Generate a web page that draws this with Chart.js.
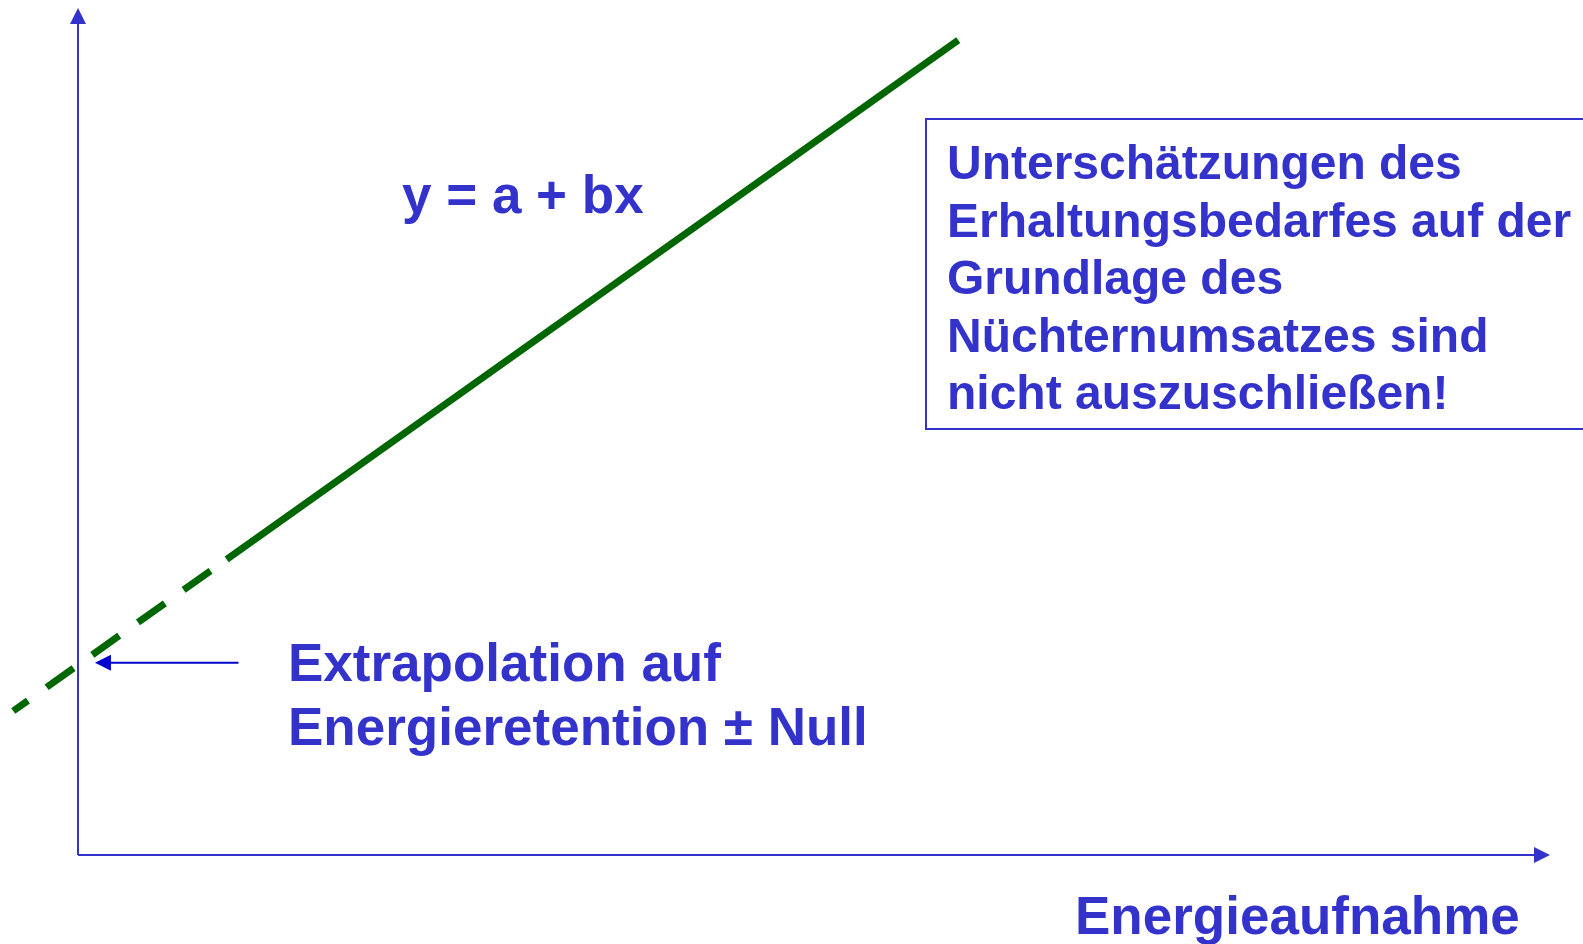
<!DOCTYPE html>
<html>
<head>
<meta charset="utf-8">
<script src="https://cdn.jsdelivr.net/npm/chart.js@4"></script>
<style>
  html, body { margin: 0; padding: 0; background: #fff; }
  #wrap { width: 1583px; height: 944px; position: relative; }
</style>
</head>
<body>
<div id="wrap"><canvas id="chart"></canvas></div>
<script>
// line y = a + bx, extrapolated part (dashed) and measured part (solid)
const dashedX = [-4.4, 10.1];
const dashedY = [17.0, 34.9];
const solidX = [10.1, 59.8];
const solidY = [34.9, 96.2];

// arrow pointing at the intercept on the y axis
const pointerX = [10.9, 1.15];
const pointerY = [22.7, 22.7];

const equationLabel = 'y = a + bx';
const extrapolationLines = ['Extrapolation auf', 'Energieretention \u00b1 Null'];
const noteLines = [
    'Unterschätzungen des',
    'Erhaltungsbedarfes auf der',
    'Grundlage des',
    'Nüchternumsatzes sind',
    'nicht auszuschließen!'
];
const xAxisTitle = 'Energieaufnahme';

const BLUE = '#3333cc';
const GREEN = '#006600';
const FONT = 'bold 53px "Liberation Sans", Arial, sans-serif';

function toPoints(xs, ys) {
    return xs.map((x, i) => ({ x: x, y: ys[i] }));
}

function arrowHead(ctx, tipX, tipY, dx, dy, len, half) {
    // dx, dy = unit direction of the arrow
    const bx = tipX - dx * len;
    const by = tipY - dy * len;
    ctx.beginPath();
    ctx.moveTo(tipX, tipY);
    ctx.lineTo(bx - dy * half, by + dx * half);
    ctx.lineTo(bx + dy * half, by - dx * half);
    ctx.closePath();
    ctx.fill();
}

const decorations = {
    id: 'decorations',
    beforeDatasetsDraw(chart) {
        const ctx = chart.ctx;
        const x = chart.scales.x;
        const y = chart.scales.y;
        const ox = x.getPixelForValue(0);
        const oy = y.getPixelForValue(0);
        const xEnd = x.getPixelForValue(x.max);
        const yEnd = y.getPixelForValue(y.max);

        ctx.save();
        ctx.strokeStyle = BLUE;
        ctx.fillStyle = BLUE;
        ctx.lineWidth = 2;

        // axes
        ctx.beginPath();
        ctx.moveTo(ox, oy);
        ctx.lineTo(ox, yEnd + 10);
        ctx.moveTo(ox, oy);
        ctx.lineTo(xEnd - 10, oy);
        ctx.stroke();
        arrowHead(ctx, ox, yEnd, 0, -1, 16, 8);
        arrowHead(ctx, xEnd, oy, 1, 0, 16, 8);

        // note box (runs off the right edge)
        ctx.lineWidth = 2;
        ctx.strokeRect(926, 119, 700, 310);
        ctx.restore();
    },
    afterDatasetsDraw(chart) {
        const ctx = chart.ctx;
        const x = chart.scales.x;
        const y = chart.scales.y;

        ctx.save();
        // pointer arrow
        const px0 = x.getPixelForValue(pointerX[0]);
        const px1 = x.getPixelForValue(pointerX[1]);
        const py = y.getPixelForValue(pointerY[0]);
        ctx.strokeStyle = '#0000cc';
        ctx.fillStyle = '#0000cc';
        ctx.lineWidth = 2;
        ctx.beginPath();
        ctx.moveTo(px0, py);
        ctx.lineTo(px1 + 12, py);
        ctx.stroke();
        arrowHead(ctx, px1, py, -1, 0, 16, 8);

        // texts
        ctx.fillStyle = BLUE;
        ctx.textBaseline = 'alphabetic';
        ctx.textAlign = 'left';
        ctx.font = FONT;
        ctx.fillText(equationLabel, 402, 213);
        extrapolationLines.forEach((t, i) => ctx.fillText(t, 288, 681 + i * 64));
        ctx.fillText(xAxisTitle, 1075, 934);

        ctx.font = 'bold 48px "Liberation Sans", Arial, sans-serif';
        noteLines.forEach((t, i) => ctx.fillText(t, 947, 179 + i * 57.5));
        ctx.restore();
    }
};

new Chart(document.getElementById('chart'), {
    type: 'scatter',
    data: {
        datasets: [
            {
                label: 'Extrapolation',
                data: toPoints(dashedX, dashedY),
                showLine: true,
                borderColor: GREEN,
                borderWidth: 7,
                borderDash: [33, 23],
                borderDashOffset: 15,
                borderCapStyle: 'butt',
                pointRadius: 0,
                clip: false
            },
            {
                label: 'y = a + bx',
                data: toPoints(solidX, solidY),
                showLine: true,
                borderColor: GREEN,
                borderWidth: 7,
                borderCapStyle: 'butt',
                pointRadius: 0,
                clip: false
            }
        ]
    },
    options: {
        responsive: true,
        maintainAspectRatio: false,
        animation: false,
        layout: {
            padding: { left: 78, right: 33, top: 8, bottom: 89 }
        },
        plugins: {
            legend: { display: false },
            tooltip: { enabled: false }
        },
        scales: {
            x: { type: 'linear', min: 0, max: 100, display: false },
            y: { type: 'linear', min: 0, max: 100, display: false }
        }
    },
    plugins: [decorations]
});
</script>
</body>
</html>
